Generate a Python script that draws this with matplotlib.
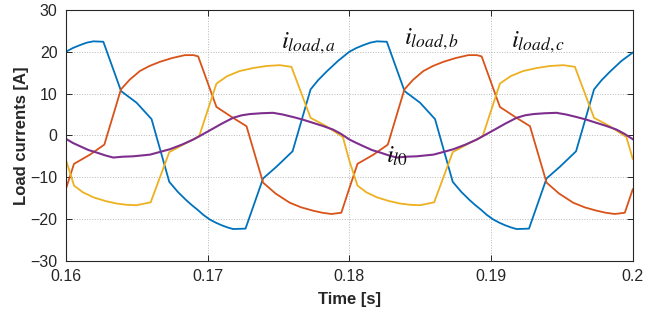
import numpy as np
import matplotlib
matplotlib.use("Agg")
import matplotlib.pyplot as plt

# ── Data ──────────────────────────────────────────────────────────────

t_a = [0.16000, 0.16050, 0.16100, 0.16150, 0.16195, 0.16265, 0.16390, 0.16500,
       0.16605, 0.16730, 0.16790, 0.16850, 0.16890, 0.16930, 0.16970, 0.17015,
       0.17060, 0.17100, 0.17140, 0.17180, 0.17268, 0.17392, 0.17486, 0.17600,
       0.17727, 0.17780, 0.17838, 0.17920, 0.17960, 0.18000,
       0.18050, 0.18100, 0.18150, 0.18195, 0.18265, 0.18390, 0.18500,
       0.18605, 0.18730, 0.18790, 0.18850, 0.18890, 0.18930, 0.18970, 0.19015,
       0.19060, 0.19100, 0.19140, 0.19180, 0.19268, 0.19392, 0.19486, 0.19600,
       0.19727, 0.19780, 0.19838, 0.19920, 0.19960, 0.20000]
i_a = [20.0, 20.9, 21.6, 22.2, 22.5, 22.4, 10.6, 7.8,
       3.9, -11.1, -13.5, -15.5, -16.7, -17.8, -19.0, -20.1,
       -20.9, -21.5, -22.0, -22.4, -22.3, -10.3, -7.5, -3.8,
       11.0, 13.2, 15.2, 17.8, 18.9, 20.0,
       20.9, 21.6, 22.2, 22.5, 22.4, 10.6, 7.8,
       3.9, -11.1, -13.5, -15.5, -16.7, -17.8, -19.0, -20.1,
       -20.9, -21.5, -22.0, -22.4, -22.3, -10.3, -7.5, -3.8,
       11.0, 13.2, 15.2, 17.8, 18.8, 19.8]

t_b = [0.16000, 0.16058, 0.16171, 0.16272, 0.16389, 0.16450, 0.16523, 0.16590,
       0.16664, 0.16750, 0.16840, 0.16900, 0.16934, 0.17063, 0.17180, 0.17275,
       0.17392, 0.17480, 0.17580, 0.17660, 0.17744, 0.17810, 0.17873, 0.17944,
       0.18000,
       0.18058, 0.18171, 0.18272, 0.18389, 0.18450, 0.18523, 0.18590,
       0.18664, 0.18750, 0.18840, 0.18900, 0.18934, 0.19063, 0.19180, 0.19275,
       0.19392, 0.19480, 0.19580, 0.19660, 0.19744, 0.19810, 0.19873, 0.19944,
       0.20000]
i_b = [-12.9, -6.8, -4.6, -2.2, 11.0, 13.3, 15.4, 16.6,
       17.6, 18.5, 19.2, 19.2, 18.9, 6.8, 4.2, 2.2,
       -11.3, -13.9, -16.1, -17.2, -18.0, -18.5, -18.8, -18.5,
       -12.7,
       -6.8, -4.6, -2.2, 11.0, 13.3, 15.4, 16.6,
       17.6, 18.5, 19.2, 19.2, 18.9, 6.8, 4.2, 2.2,
       -11.3, -13.9, -16.1, -17.2, -18.0, -18.5, -18.8, -18.5,
       -12.9]

t_c = [0.16000, 0.16058, 0.16120, 0.16194, 0.16280, 0.16359, 0.16430, 0.16500,
       0.16599, 0.16730, 0.16828, 0.16941, 0.17063, 0.17140, 0.17227, 0.17320,
       0.17415, 0.17510, 0.17592, 0.17727, 0.17838, 0.17955, 0.18000,
       0.18058, 0.18120, 0.18194, 0.18280, 0.18359, 0.18430, 0.18500,
       0.18599, 0.18730, 0.18828, 0.18941, 0.19063, 0.19140, 0.19227, 0.19320,
       0.19415, 0.19510, 0.19592, 0.19727, 0.19838, 0.19955, 0.20000]
i_c = [-5.7, -12.0, -13.6, -14.8, -15.7, -16.3, -16.6, -16.7,
       -16.0, -4.0, -2.2, -0.2, 12.4, 14.2, 15.4, 16.1,
       16.6, 16.8, 16.4, 4.2, 2.2, -0.4, -6.0,
       -12.0, -13.6, -14.8, -15.7, -16.3, -16.6, -16.7,
       -16.0, -4.0, -2.2, -0.2, 12.4, 14.2, 15.4, 16.1,
       16.6, 16.8, 16.4, 4.2, 2.2, -0.4, -5.6]

t_0 = [0.16000, 0.16050, 0.16101, 0.16160, 0.16218, 0.16280, 0.16335, 0.16400,
       0.16476, 0.16594, 0.16660, 0.16735, 0.16820, 0.16899, 0.17016, 0.17100,
       0.17180, 0.17240, 0.17298, 0.17380, 0.17462, 0.17530, 0.17603, 0.17670,
       0.17744, 0.17810, 0.17885, 0.17940, 0.18002,
       0.18050, 0.18101, 0.18160, 0.18218, 0.18280, 0.18335, 0.18400,
       0.18476, 0.18594, 0.18660, 0.18735, 0.18820, 0.18899, 0.19016, 0.19100,
       0.19180, 0.19240, 0.19298, 0.19380, 0.19462, 0.19530, 0.19603, 0.19670,
       0.19744, 0.19810, 0.19885, 0.19940, 0.20000]
i_0 = [-0.8, -1.8, -2.6, -3.5, -4.1, -4.8, -5.3, -5.1,
       -5.0, -4.6, -4.0, -3.3, -2.2, -1.0, 1.2, 2.8,
       4.2, 4.8, 5.1, 5.3, 5.4, 5.0, 4.4, 3.8,
       3.0, 2.3, 1.4, 0.4, -1.0,
       -1.8, -2.6, -3.5, -4.1, -4.8, -5.3, -5.1,
       -5.0, -4.6, -4.0, -3.3, -2.2, -1.0, 1.2, 2.8,
       4.2, 4.8, 5.1, 5.3, 5.4, 5.0, 4.4, 3.8,
       3.0, 2.3, 1.4, 0.4, -0.9]

x_ticks = [0.16, 0.17, 0.18, 0.19, 0.20]
x_ticklabels = ["0.16", "0.17", "0.18", "0.19", "0.2"]
y_ticks = [-30, -20, -10, 0, 10, 20, 30]

labels = [r"$i_{load,a}$", r"$i_{load,b}$", r"$i_{load,c}$", r"$i_{l0}$"]
label_pos = [(0.17521, 20.8), (0.18389, 21.8), (0.19141, 21.1), (0.18261, -6.6)]

# ── Plot ──────────────────────────────────────────────────────────────

plt.rcParams['font.family'] = ['Liberation Sans', 'DejaVu Sans']
plt.rcParams['mathtext.fontset'] = 'stix'

fig = plt.figure(figsize=(6.45, 3.22), dpi=100)
ax = fig.add_axes([0.102, 0.190, 0.879, 0.779])

ax.plot(t_a, i_a, color=(0.000, 0.447, 0.741), lw=1.3)
ax.plot(t_b, i_b, color=(0.850, 0.325, 0.098), lw=1.3)
ax.plot(t_c, i_c, color=(0.929, 0.694, 0.125), lw=1.3)
ax.plot(t_0, i_0, color=(0.494, 0.184, 0.556), lw=1.5)

for txt, (x, y) in zip(labels, label_pos):
    ax.text(x, y, txt, fontsize=18, ha='left', va='baseline', color='#111111')

ax.set_xlim(0.16, 0.20)
ax.set_ylim(-30, 30)
ax.set_xticks(x_ticks)
ax.set_xticklabels(x_ticklabels)
ax.set_yticks(y_ticks)
ax.grid(True, linestyle=':', color='#b8b8b8', lw=0.7)
ax.tick_params(direction='in', top=True, right=True, length=4, width=0.7,
               labelsize=11.5, colors='#262626', pad=6)
for s in ax.spines.values():
    s.set_linewidth(0.8)
    s.set_color('#262626')

ax.set_xlabel('Time [s]', fontsize=12, fontweight='bold', color='#262626', labelpad=6)
ax.set_ylabel('Load currents [A]', fontsize=12, fontweight='bold', color='#262626', labelpad=1)

fig.savefig('out.png', dpi=100)
